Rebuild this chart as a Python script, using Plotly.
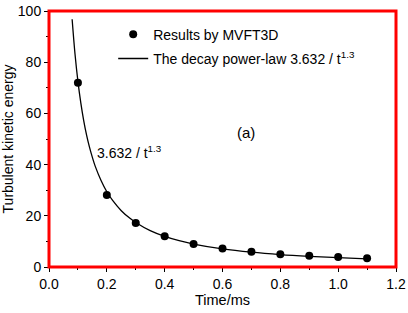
import plotly.graph_objects as go

# Simulation results (Time/ms, turbulent kinetic energy)
t_pts = [0.1, 0.2, 0.3, 0.4, 0.5, 0.6, 0.7, 0.8, 0.9, 1.0, 1.1]
k_pts = [72.0, 28.1, 17.2, 12.0, 9.0, 7.2, 6.0, 5.0, 4.4, 3.9, 3.4]

# Decay power-law curve 3.632 / t^1.3
t_fit = [0.08, 0.09, 0.10, 0.11, 0.12, 0.13, 0.14, 0.15, 0.16, 0.18, 0.20, 0.22,
         0.25, 0.28, 0.30, 0.35, 0.40, 0.45, 0.50, 0.60, 0.70, 0.80, 0.90, 1.00, 1.10]
k_fit = [96.8, 83.1, 72.5, 64.1, 57.2, 51.5, 46.8, 42.8, 39.3, 33.8, 29.4, 26.0,
         22.0, 19.0, 17.4, 14.2, 11.95, 10.26, 8.94, 7.06, 5.78, 4.85, 4.17, 3.63, 3.21]

x_range = [0, 1.2]
y_range = [0, 100]
x_step, x_minor = 0.2, 0.1
y_step, y_minor = 20, 10

FONT = "Liberation Sans, Arial, sans-serif"

fig = go.Figure()
fig.add_trace(go.Scatter(
    x=t_pts, y=k_pts, mode="markers", name="Results by MVFT3D",
    marker=dict(color="black", size=8), legendgroup="a"))
fig.add_trace(go.Scatter(
    x=t_fit, y=k_fit, mode="lines", line_shape="spline",
    name="The decay power-law 3.632 / t<sup>1.3</sup>",
    line=dict(color="black", width=1.3), legendgroup="b"))

axis_common = dict(
    showgrid=False, zeroline=False, showline=True, linecolor="black",
    linewidth=1, mirror=True, ticks="outside", ticklen=4, tickwidth=1,
    tickcolor="black", tickfont=dict(size=14, color="black", family=FONT),
    automargin=False, tickmode="linear", tick0=0,
)

fig.update_xaxes(range=x_range, dtick=x_step, tickformat=".1f",
                 minor=dict(ticks="outside", ticklen=2, tickcolor="black", dtick=x_minor,
                            tick0=0, showgrid=False),
                 title=dict(text="Time/ms", font=dict(size=14.5, family=FONT, color="black"),
                            standoff=2),
                 **axis_common)
fig.update_yaxes(range=y_range, dtick=y_step,
                 minor=dict(ticks="outside", ticklen=2, tickcolor="black", dtick=y_minor,
                            tick0=0, showgrid=False),
                 title=dict(text="Turbulent kinetic energy",
                            font=dict(size=14, family=FONT, color="black"), standoff=2),
                 **axis_common)

# frame around the plotting area (paper coordinates = plot area edges)
fig.add_shape(type="rect", xref="paper", yref="paper", x0=0, x1=1, y0=0, y1=1,
              line=dict(color="red", width=3), layer="above")

fig.add_annotation(x=0.16, y=45, xanchor="left", yanchor="middle", showarrow=False,
                   text="3.632 / t<sup>1.3</sup>",
                   font=dict(size=14, family=FONT, color="black"))
fig.add_annotation(x=0.68, y=52.5, xanchor="center", yanchor="middle", showarrow=False,
                   text="(a)", font=dict(size=15, family=FONT, color="black"))

fig.update_layout(
    width=408, height=313,
    margin=dict(l=49, r=12, t=11, b=46),
    paper_bgcolor="white", plot_bgcolor="white",
    font=dict(family=FONT, color="black"),
    legend=dict(x=0.185, y=0.97, xanchor="left", yanchor="top",
                bgcolor="rgba(0,0,0,0)", traceorder="grouped", tracegroupgap=3,
                font=dict(size=14, family=FONT, color="black"), itemwidth=30),
)

fig.write_html("out.html", config={"displayModeBar": False},
               post_script="document.body.style.margin='0';")
